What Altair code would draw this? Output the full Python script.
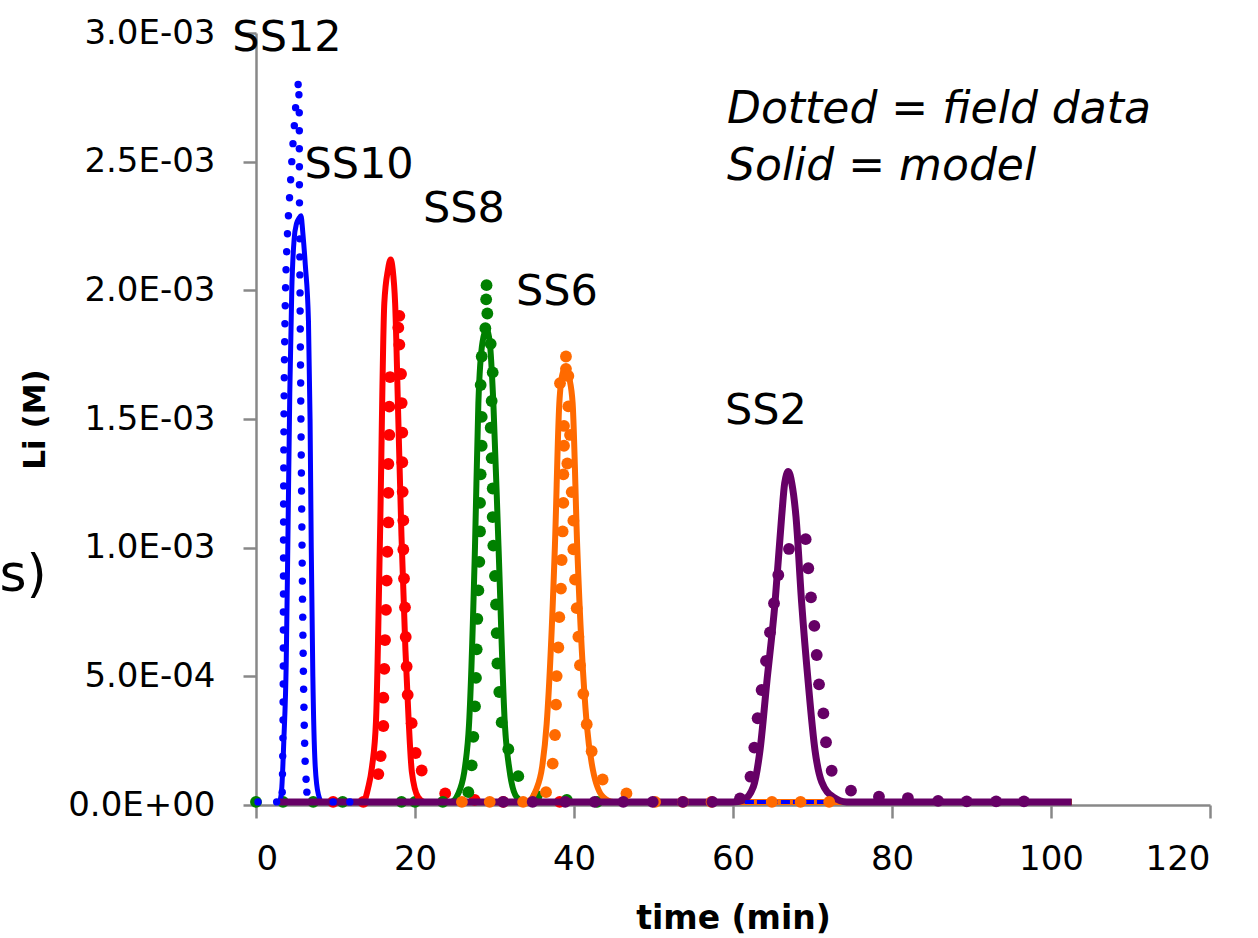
import altair as alt
import pandas as pd

BASE = 0.012  # baseline level of curves, in 1e-3 M

# ---------------- model curves (time [min], Li [1e-3 M]) ----------------
ss12_model_t = [3.0, 3.25, 3.5, 3.8, 4.0, 4.25, 4.5, 4.8, 5.1, 5.4, 5.66, 5.9, 6.2, 6.6, 6.8, 6.95, 7.15, 7.45, 7.85, 8.3, 60.0, 102.6]
ss12_model_v = [0.012, 0.07, 0.25, 0.55, 1.0, 1.6, 2.0, 2.2, 2.26, 2.28, 2.29, 2.22, 2.1, 1.88, 1.5, 1.0, 0.5, 0.15, 0.04, 0.012, 0.012, 0.012]

ss10_model_t = [3.0, 13.5, 14.1, 14.6, 15.1, 15.6, 16.14, 16.6, 16.94, 17.2, 17.5, 17.9, 18.3, 18.8, 19.2, 19.6, 20.4, 21.2, 60.0, 102.6]
ss10_model_v = [0.012, 0.012, 0.066, 0.15, 0.33, 1.045, 1.95, 2.08, 2.12, 2.08, 1.95, 1.5, 1.045, 0.6, 0.33, 0.13, 0.03, 0.012, 0.012, 0.012]

ss8_model_t = [3.0, 24.5, 25.7, 26.3, 26.8, 27.55, 27.97, 28.5, 29.0, 29.4, 29.86, 30.5, 31.3, 31.9, 32.8, 33.8, 60.0, 102.6]
ss8_model_v = [0.012, 0.012, 0.064, 0.15, 0.315, 1.008, 1.56, 1.8, 1.847, 1.8, 1.56, 1.008, 0.315, 0.133, 0.03, 0.012, 0.012, 0.012]

ss6_model_t = [3.0, 34.0, 35.3, 36.0, 36.56, 37.6, 38.15, 38.6, 39.0, 39.4, 39.83, 40.4, 41.6, 42.4, 43.7, 45.0, 72.0, 102.6]
ss6_model_v = [0.012, 0.012, 0.064, 0.15, 0.315, 1.008, 1.56, 1.68, 1.70, 1.66, 1.56, 1.008, 0.315, 0.133, 0.03, 0.012, 0.012, 0.012]

ss2_model_t = [3.0, 60.0, 61.3, 62.56, 63.4, 64.24, 65.28, 66.12, 66.5, 66.96, 67.4, 67.92, 68.64, 69.47, 70.31, 71.16, 72.62, 74.3, 102.6]
ss2_model_v = [0.012, 0.012, 0.019, 0.071, 0.214, 0.473, 0.784, 1.121, 1.25, 1.296, 1.25, 1.121, 0.784, 0.473, 0.214, 0.089, 0.031, 0.012, 0.012]

# ---------------- field data (time [min], Li [1e-3 M]) ----------------
ss12_field_t = [0.25, 2.6,
                3.30, 3.33, 3.36, 3.38, 3.40, 3.41, 3.42, 3.43, 3.43, 3.44, 3.44, 3.45, 3.45, 3.46, 3.46, 3.47, 3.47, 3.48, 3.49, 3.50,
                3.51, 3.52, 3.54, 3.56, 3.58, 3.61, 3.64, 3.68, 3.72, 3.78, 3.86, 3.96, 4.08, 4.22, 4.36, 4.50, 4.65, 4.82, 4.98, 5.30,
                5.40, 5.44, 5.45, 5.45, 5.46, 5.46, 5.47, 5.48, 5.50, 5.51, 5.52, 5.54, 5.55, 5.57, 5.58, 5.60, 5.62, 5.63, 5.65, 5.67,
                5.69, 5.71, 5.73, 5.75, 5.77, 5.79, 5.81, 5.83, 5.85, 5.88, 5.90, 5.93, 5.96, 5.99, 6.03, 6.07, 6.12, 6.18, 6.30, 6.40,
                9.7, 11.8]
ss12_field_v = [0.012, 0.012,
                0.05, 0.12, 0.19, 0.26, 0.33, 0.40, 0.47, 0.54, 0.61, 0.68, 0.75, 0.82, 0.89, 0.96, 1.03, 1.10, 1.17, 1.24, 1.31, 1.38,
                1.45, 1.52, 1.59, 1.66, 1.73, 1.80, 1.87, 1.94, 2.01, 2.08, 2.15, 2.22, 2.29, 2.36, 2.43, 2.50, 2.57, 2.64, 2.71, 2.80,
                2.76, 2.69, 2.62, 2.55, 2.48, 2.41, 2.34, 2.27, 2.20, 2.13, 2.06, 1.99, 1.92, 1.85, 1.78, 1.71, 1.64, 1.57, 1.50, 1.43,
                1.36, 1.29, 1.22, 1.15, 1.08, 1.01, 0.94, 0.87, 0.80, 0.73, 0.66, 0.59, 0.52, 0.45, 0.38, 0.31, 0.24, 0.17, 0.10, 0.05,
                0.012, 0.012]
ss12_tail_t = [61.5, 72.0]
ss12_tail_v = [0.012, 0.012]

ss10_field_t = [9.7, 13.5,
                15.39, 15.68, 16.02, 16.02, 16.14, 16.23, 16.35, 16.44, 16.52, 16.65, 16.65, 16.65, 16.77, 16.77, 16.86,
                18.03, 17.90, 18.03, 18.24, 18.32, 18.40, 18.40, 18.45, 18.53, 18.53, 18.62, 18.74, 18.83, 18.95, 19.08, 19.58, 20.08, 20.84,
                23.8, 27.5, 31.1, 38.2]
ss10_field_v = [0.012, 0.012,
                0.12, 0.19, 0.307, 0.417, 0.529, 0.641, 0.758, 0.872, 0.984, 1.098, 1.213, 1.325, 1.438, 1.548, 1.663,
                1.901, 1.855, 1.789, 1.675, 1.562, 1.447, 1.332, 1.217, 1.106, 0.993, 0.880, 0.768, 0.653, 0.538, 0.428, 0.318, 0.202, 0.134,
                0.045, 0.02, 0.012, 0.012]

ss8_field_t = [0.0, 3.4, 7.2, 10.9, 18.3, 20.0, 23.5,
               26.71, 27.13, 27.34, 27.55, 27.67, 27.76, 27.84, 27.97, 28.09, 28.18, 28.18, 28.26, 28.39, 28.39, 28.26, 28.39,
               28.85, 29.10, 28.95, 29.00,
               29.52, 29.77, 29.64, 29.52, 29.64, 29.77, 29.77, 29.85, 30.06, 30.19, 30.27, 30.36, 30.60, 30.90, 31.74, 32.99,
               35.3, 39.1, 42.9]
ss8_field_v = [0.012, 0.012, 0.012, 0.012, 0.012, 0.012, 0.012,
               0.050, 0.154, 0.265, 0.383, 0.494, 0.605, 0.723, 0.834, 0.945, 1.063, 1.174, 1.285, 1.396, 1.508, 1.632, 1.743,
               1.853, 1.91, 1.965, 2.02,
               1.792, 1.681, 1.570, 1.466, 1.348, 1.230, 1.119, 1.008, 0.890, 0.779, 0.668, 0.550, 0.439, 0.321, 0.217, 0.112,
               0.035, 0.02, 0.012]

ss6_field_t = [25.9, 29.4, 33.6,
               36.48, 37.32, 37.61, 37.74, 37.82, 38.03, 38.15, 38.36, 38.45, 38.57, 38.66, 38.66, 38.74, 38.74, 38.24,
               38.99, 38.99,
               39.29, 39.29, 39.50, 39.16, 39.71, 39.92, 39.92, 40.13, 40.34, 40.55, 40.75, 41.17, 41.60, 42.22, 43.60,
               46.6, 50.2, 53.7, 57.3, 64.9, 68.5, 72.1]
ss6_field_v = [0.012, 0.012, 0.012,
               0.050, 0.161, 0.272, 0.390, 0.501, 0.612, 0.730, 0.841, 0.952, 1.063, 1.174, 1.285, 1.396, 1.473, 1.639,
               1.743, 1.695,
               1.667, 1.549, 1.438, 1.327, 1.216, 1.105, 0.994, 0.876, 0.765, 0.654, 0.543, 0.432, 0.314, 0.209, 0.099,
               0.045, 0.012, 0.012, 0.012, 0.012, 0.012, 0.012]

ss2_field_t = [31.1, 34.8, 38.9, 42.6, 46.2, 49.9, 53.7, 57.4, 60.88,
               62.2, 62.68, 63.1, 63.6, 64.15, 64.65, 65.16, 65.7, 67.04,
               69.14, 69.47, 69.81, 70.23, 70.53, 70.82, 71.37, 71.7, 72.41, 74.84, 78.36, 82.0, 85.8, 89.4, 93.1, 96.6]
ss2_field_v = [0.012, 0.012, 0.012, 0.012, 0.012, 0.012, 0.012, 0.012, 0.026,
               0.110, 0.223, 0.337, 0.447, 0.560, 0.671, 0.784, 0.894, 0.995,
               1.033, 0.920, 0.807, 0.696, 0.583, 0.469, 0.356, 0.244, 0.133, 0.056, 0.032, 0.027, 0.016, 0.014, 0.014, 0.014]

# ---------------- annotations (data coordinates) ----------------
label_text = ["SS12", "SS10", "SS8", "SS6", "SS2"]
label_t = [3.9, 12.96, 26.16, 37.86, 64.15]
label_v = [2.93, 2.437, 2.266, 1.943, 1.481]

note_text = ["Dotted = field data", "Solid = model"]
note_t = [59.25, 59.25]
note_v = [2.651, 2.429]

frag_text = ["/s)"]
frag_t = [-26.3]
frag_v = [0.83]

BLUE, RED, GREEN, ORANGE, PURPLE = "#0000FF", "#FF0000", "#008000", "#FF6A00", "#660066"
FONT = "DejaVu Sans"


def frame(t, v):
    return pd.DataFrame({"t": t, "v": [x * 1e-3 for x in v]})


X = alt.X("t:Q", scale=alt.Scale(domain=[0, 120], nice=False),
          axis=alt.Axis(values=[0, 20, 40, 60, 80, 100, 120], title="time (min)",
                        labelFont=FONT, labelFontSize=34, labelColor="black",
                        titleFont=FONT, titleFontSize=33, titleFontWeight="bold", titleColor="black",
                        titleBaseline="alphabetic", titleY=123, labelPadding=24,
                        domainColor="#888888", domainWidth=2.5, tickColor="#888888", tickWidth=2.5, tickSize=13,
                        grid=False))
Y = alt.Y("v:Q", scale=alt.Scale(domain=[0, 0.003], nice=False),
          axis=alt.Axis(values=[0, 0.0005, 0.001, 0.0015, 0.002, 0.0025, 0.003], title="Li (M)",
                        labelExpr="replace(replace(format(datum.value, '.1e'), 'e-', 'E-0'), 'e+', 'E+0')",
                        labelFont=FONT, labelFontSize=34, labelColor="black",
                        titleFont=FONT, titleFontSize=31, titleFontWeight="bold", titleColor="black",
                        titleX=-221, titleY=386, titleBaseline="middle", titleAlign="center", labelPadding=28,
                        domainColor="#888888", domainWidth=2.5, tickColor="#888888", tickWidth=2.5, tickSize=13,
                        grid=False))


def model(t, v, color, width=6):
    return alt.Chart(frame(t, v)).mark_line(color=color, strokeWidth=width, interpolate="monotone").encode(
        x=X, y=Y, order="t:Q")


def field(t, v, color, size):
    return alt.Chart(frame(t, v)).mark_circle(color=color, size=size, opacity=1).encode(x=X, y=Y)


layers = [
    field(ss10_field_t, ss10_field_v, RED, 140),
    field(ss8_field_t, ss8_field_v, GREEN, 140),
    model(ss12_model_t, ss12_model_v, BLUE, 5),
    model(ss10_model_t, ss10_model_v, RED),
    model(ss8_model_t, ss8_model_v, GREEN),
    model(ss6_model_t, ss6_model_v, ORANGE),
    model(ss2_model_t, ss2_model_v, PURPLE, 7),
    alt.Chart(frame(ss12_tail_t, ss12_tail_v)).mark_line(color=BLUE, strokeWidth=4, strokeDash=[9, 3]).encode(x=X, y=Y),
    field(ss12_field_t, ss12_field_v, BLUE, 55),
    field(ss6_field_t, ss6_field_v, ORANGE, 140),
    field(ss2_field_t, ss2_field_v, PURPLE, 140),
]

labels = alt.Chart(pd.DataFrame({"t": label_t, "v": [x * 1e-3 for x in label_v], "s": label_text})).mark_text(
    font=FONT, fontSize=43, align="center", baseline="alphabetic", color="black").encode(x=X, y=Y, text="s:N")
notes = alt.Chart(pd.DataFrame({"t": note_t, "v": [x * 1e-3 for x in note_v], "s": note_text})).mark_text(
    font=FONT, fontSize=44, fontStyle="italic", align="left", baseline="alphabetic", color="black").encode(
    x=X, y=Y, text="s:N")
frag = alt.Chart(pd.DataFrame({"t": frag_t, "v": [x * 1e-3 for x in frag_v], "s": frag_text})).mark_text(
    font=FONT, fontSize=52, align="right", baseline="alphabetic", color="black").encode(x=X, y=Y, text="s:N")

chart = alt.layer(*layers, labels, notes, frag).properties(
    width=954, height=772,
    autosize=alt.AutoSizeParams(type="none"),
    padding={"left": 256, "top": 33, "right": 48, "bottom": 133},
    background="white",
).configure_view(stroke=None)

chart.save("out.html", embed_options={"renderer": "svg", "actions": False})
